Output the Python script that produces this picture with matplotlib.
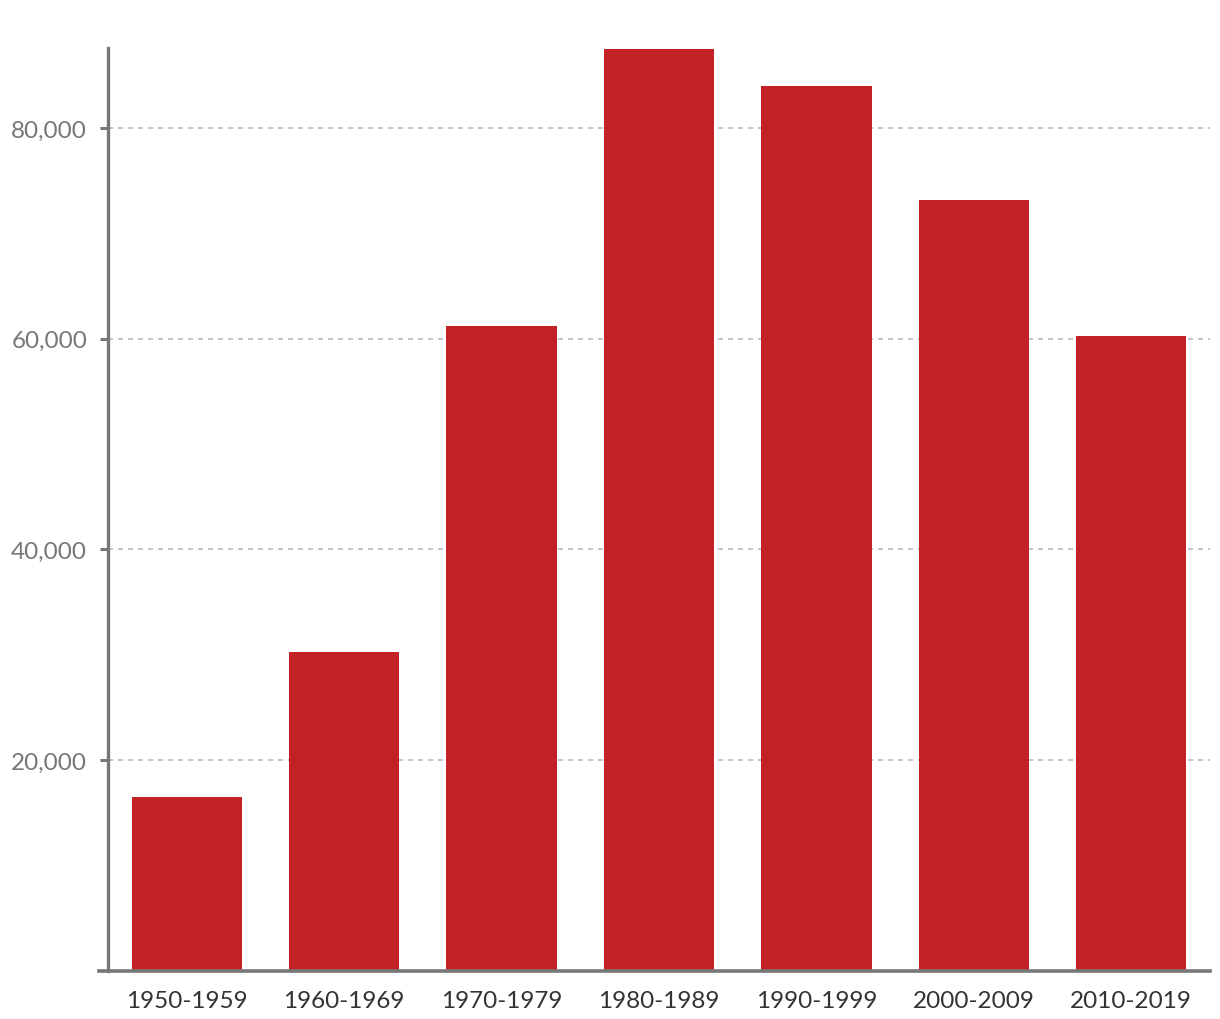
import matplotlib
matplotlib.use("Agg")
import matplotlib.pyplot as plt
from matplotlib.ticker import FuncFormatter
from matplotlib.lines import Line2D

decades = ["1950-1959", "1960-1969", "1970-1979", "1980-1989",
           "1990-1999", "2000-2009", "2010-2019"]
counts = [16500, 30300, 61200, 87500, 84000, 73200, 60250]

plt.rcParams['font.family'] = ['Lato', 'DejaVu Sans']

fig = plt.figure(figsize=(12.2, 10.2), dpi=100)
ax = fig.add_axes([108 / 1220, 48 / 1020, 1102 / 1220, 923 / 1020])

x = range(len(decades))
ax.bar(x, counts, width=0.70, color="#c42127", zorder=3)

ax.set_xlim(-0.5, len(decades) - 0.5)
ax.set_ylim(0, 87590)
ax.set_yticks([20000, 40000, 60000, 80000])
ax.yaxis.set_major_formatter(FuncFormatter(lambda v, p: f"{int(v):,}"))
ax.set_xticks(list(x))
ax.set_xticklabels(decades)

ax.grid(axis="y", color="#b4bfc3", linestyle=(0, (3, 3)), linewidth=1.2, zorder=0)
for s in ["top", "right", "bottom"]:
    ax.spines[s].set_visible(False)
ax.spines["left"].set_color("#777777")
ax.spines["left"].set_linewidth(2.4)

ax.tick_params(axis="y", colors="#777777", length=6, width=2.2, labelsize=17.5, pad=9)
ax.tick_params(axis="x", length=0, labelsize=17.5, labelcolor="#333333", pad=14)

# baseline, reaching a little past the left spine
ax.add_line(Line2D([-0.008, 1.0], [0, 0], transform=ax.transAxes,
                   color="#777777", linewidth=2.6, clip_on=False, zorder=4))

fig.savefig("out.png", dpi=100)
